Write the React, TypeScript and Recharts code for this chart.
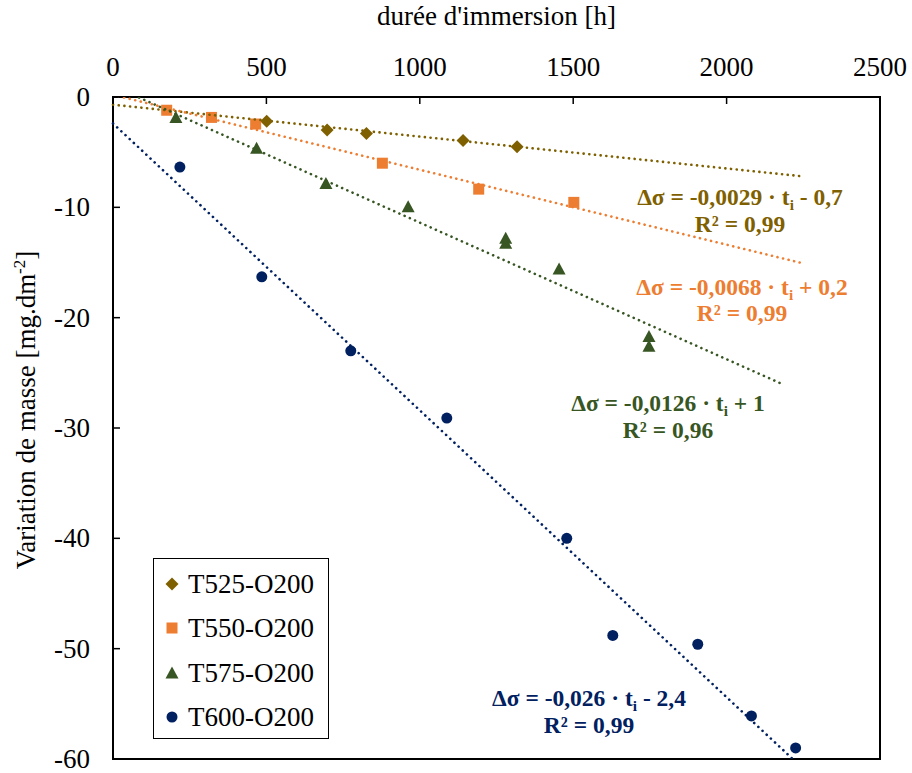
import React from "react";
import { Legend, ReferenceArea, Scatter, ScatterChart, XAxis, YAxis } from "recharts";

const X_TICKS = [0, 500, 1000, 1500, 2000, 2500];
const Y_TICKS = [-60, -50, -40, -30, -20, -10, 0];

// measured points (t = hours, dm = mg/dm²)
const T525 = [
  { t: 501, dm: -2.2 },
  { t: 698, dm: -3.0 },
  { t: 826, dm: -3.3 },
  { t: 1141, dm: -3.95 },
  { t: 1317, dm: -4.5 },
];
const T550 = [
  { t: 175, dm: -1.2 },
  { t: 321, dm: -1.85 },
  { t: 465, dm: -2.45 },
  { t: 878, dm: -6.0 },
  { t: 1192, dm: -8.35 },
  { t: 1502, dm: -9.55 },
];
const T575 = [
  { t: 205, dm: -1.85 },
  { t: 468, dm: -4.65 },
  { t: 694, dm: -7.85 },
  { t: 962, dm: -9.95 },
  { t: 1280, dm: -12.8 },
  { t: 1280, dm: -13.25 },
  { t: 1454, dm: -15.6 },
  { t: 1747, dm: -21.7 },
  { t: 1747, dm: -22.6 },
];
const T600 = [
  { t: 218, dm: -6.35 },
  { t: 485, dm: -16.3 },
  { t: 775, dm: -23.0 },
  { t: 1088, dm: -29.1 },
  { t: 1479, dm: -40.0 },
  { t: 1629, dm: -48.8 },
  { t: 1906, dm: -49.6 },
  { t: 2081, dm: -56.1 },
  { t: 2225, dm: -59.0 },
];

// linear trendline end points
const TREND_525 = [
  { t: 0, dm: -0.7 },
  { t: 2250, dm: -7.2 },
];
const TREND_550 = [
  { t: 0, dm: 0.2 },
  { t: 2245, dm: -15.05 },
];
const TREND_575 = [
  { t: 0, dm: 1 },
  { t: 2180, dm: -26.0 },
];
const TREND_600 = [
  { t: 0, dm: -2.4 },
  { t: 2250, dm: -60.9 },
];

const OLIVE = "#7f6000";
const ORANGE = "#ed7d31";
const GREEN = "#375623";
const NAVY = "#002060";

const FONT = "'Liberation Serif', 'Times New Roman', serif";

function Marker({ kind, cx, cy, color }: { kind: string; cx: number; cy: number; color: string }) {
  if (kind === "diamond") {
    return <path d={`M${cx},${cy - 6.5}L${cx + 6.5},${cy}L${cx},${cy + 6.5}L${cx - 6.5},${cy}Z`} fill={color} />;
  }
  if (kind === "square") {
    return <rect x={cx - 5.5} y={cy - 5.5} width={11} height={11} fill={color} />;
  }
  if (kind === "triangle") {
    return <path d={`M${cx},${cy - 6.5}L${cx + 6.5},${cy + 5.5}L${cx - 6.5},${cy + 5.5}Z`} fill={color} />;
  }
  return <circle cx={cx} cy={cy} r={5.5} fill={color} />;
}

const SERIES = [
  { name: "T525-O200", kind: "diamond", color: OLIVE, data: T525, trend: TREND_525 },
  { name: "T550-O200", kind: "square", color: ORANGE, data: T550, trend: TREND_550 },
  { name: "T575-O200", kind: "triangle", color: GREEN, data: T575, trend: TREND_575 },
  { name: "T600-O200", kind: "circle", color: NAVY, data: T600, trend: TREND_600 },
];

function XTick({ x, y, payload }: any) {
  return (
    <g>
      <line x1={x} y1={y} x2={x} y2={y + 7} stroke="#000" strokeWidth={1.5} />
      <text x={x} y={y - 30} dy="0.33em" textAnchor="middle" style={{ fontFamily: FONT, fontSize: 27 }} fill="#000">
        {payload.value}
      </text>
    </g>
  );
}

function YTick({ x, y, payload }: any) {
  return (
    <g>
      <line x1={x} y1={y} x2={x + 7} y2={y} stroke="#000" strokeWidth={1.5} />
      <text x={x - 23} y={y} dy="0.33em" textAnchor="end" style={{ fontFamily: FONT, fontSize: 27 }} fill="#000">
        {payload.value}
      </text>
    </g>
  );
}

function LegendBox() {
  return (
    <div
      style={{
        width: 176,
        height: 181,
        boxSizing: "border-box",
        border: "1.5px solid #000",
        background: "#fff",
        paddingTop: 3,
        fontFamily: FONT,
        fontSize: 27,
        color: "#000",
      }}
    >
      {SERIES.map((s) => (
        <div key={s.name} style={{ display: "flex", alignItems: "center", height: 44.3 }}>
          <svg width={34} height={20} style={{ flexShrink: 0 }}>
            <Marker kind={s.kind} cx={18} cy={10} color={s.color} />
          </svg>
          <span style={{ lineHeight: "30px" }}>{s.name}</span>
        </div>
      ))}
    </div>
  );
}

const NOTES = [
  { eq: ["Δσ = -0,0029 · t", " - 0,7"], r2: "R² = 0,99", color: OLIVE, cx: 740, top: 184 },
  { eq: ["Δσ = -0,0068 · t", " + 0,2"], r2: "R² = 0,99", color: ORANGE, cx: 742, top: 273.5 },
  { eq: ["Δσ = -0,0126 · t", " + 1"], r2: "R² = 0,96", color: GREEN, cx: 668, top: 390 },
  { eq: ["Δσ = -0,026 · t", " - 2,4"], r2: "R² = 0,99", color: NAVY, cx: 589, top: 685 },
];

export default function App() {
  return (
    <div style={{ position: "absolute", left: 0, top: 0, width: 912, height: 773, background: "#fff" }}>
      <ScatterChart width={912} height={773} margin={{ top: 0, right: 32, bottom: 14, left: 0 }}>
        <XAxis
          type="number"
          dataKey="t"
          orientation="top"
          height={97}
          domain={[0, 2500]}
          ticks={X_TICKS}
          axisLine={false}
          tickLine={false}
          tickSize={0}
          tickMargin={0}
          tick={<XTick />}
          label={{
            value: "durée d'immersion [h]",
            position: "insideTop",
            offset: 6,
            style: { fontFamily: FONT, fontSize: 27, fill: "#000" },
          }}
        />
        <YAxis
          type="number"
          dataKey="dm"
          width={113}
          domain={[-60, 0]}
          ticks={Y_TICKS}
          allowDataOverflow
          axisLine={false}
          tickLine={false}
          tickSize={0}
          tickMargin={0}
          tick={<YTick />}
          label={{
            content: ({ viewBox }: any) => (
              <text
                transform={`translate(${viewBox.x + 26},${viewBox.y + viewBox.height / 2 - 18}) rotate(-90)`}
                textAnchor="middle"
                dy="0.33em"
                style={{ fontFamily: FONT, fontSize: 27 }}
                fill="#000"
              >
                Variation de masse [mg.dm
                <tspan dy={-10} style={{ fontSize: 17 }}>
                  -2
                </tspan>
                <tspan dy={10}>]</tspan>
              </text>
            ),
          }}
        />
        <ReferenceArea x1={0} x2={2500} y1={-60} y2={0} fill="none" stroke="#000" strokeWidth={2} ifOverflow="visible" />
        {SERIES.map((s) => (
          <Scatter
            key={s.name}
            name={s.name}
            data={s.data}
            isAnimationActive={false}
            shape={(p: any) => <Marker kind={s.kind} cx={p.cx} cy={p.cy} color={s.color} />}
          />
        ))}
        {SERIES.map((s) => (
          <Scatter
            key={s.name + "-trend"}
            data={s.trend}
            isAnimationActive={false}
            legendType="none"
            line={{ stroke: s.color, strokeWidth: 2.6, strokeDasharray: "0.1 5.6", strokeLinecap: "round" }}
            shape={() => <g />}
          />
        ))}
        <Legend
          layout="vertical"
          align="center"
          verticalAlign="middle"
          content={() => <LegendBox />}
          wrapperStyle={{ position: "absolute", left: 153, top: 558, width: 176, height: 181, margin: 0 }}
        />
      </ScatterChart>
      {NOTES.map((n) => (
        <div
          key={n.eq[0]}
          style={{
            position: "absolute",
            left: n.cx - 160,
            top: n.top,
            width: 320,
            textAlign: "center",
            fontFamily: FONT,
            fontWeight: "bold",
            fontSize: 23.5,
            lineHeight: "26.5px",
            color: n.color,
            whiteSpace: "nowrap",
          }}
        >
          <div>
            {n.eq[0]}
            <span style={{ fontSize: "0.65em", verticalAlign: "-0.3em", lineHeight: 0 }}>i</span>
            {n.eq[1]}
          </div>
          <div>{n.r2}</div>
        </div>
      ))}
    </div>
  );
}
